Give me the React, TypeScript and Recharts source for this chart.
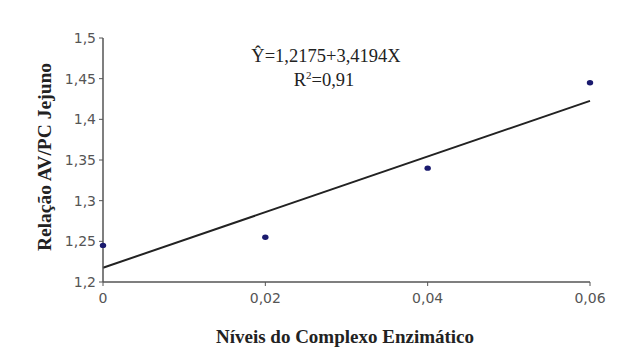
import React from "react";
import { ComposedChart, Scatter, XAxis, YAxis, ReferenceLine } from "recharts";

// Observed values
const niveis = [0, 0.02, 0.04, 0.06];
const relacao = [1.245, 1.255, 1.34, 1.445];

// Fitted regression: Y = a + b·X
const intercept = 1.2175;
const slope = 3.4194;
const r2 = 0.91;

const xTicks = [0, 0.02, 0.04, 0.06];
const yTicks = [1.2, 1.25, 1.3, 1.35, 1.4, 1.45, 1.5];

const points = niveis.map((x, i) => ({ x, y: relacao[i] }));
const xMin = niveis[0];
const xMax = niveis[niveis.length - 1];

const fmt = (v: number) => String(v).replace(".", ",");

const serif = "'Liberation Serif', 'Times New Roman', serif";
const sans = "'DejaVu Sans', Verdana, sans-serif";

const XTick = ({ x, y, payload }: any) => (
  <text x={x} y={y + 15} textAnchor="middle" fill="#555" fontFamily={sans} fontSize={14}>
    {fmt(payload.value)}
  </text>
);

const YTick = ({ x, y, payload }: any) => (
  <text x={x} y={y + 5} textAnchor="end" fill="#555" fontFamily={sans} fontSize={14}>
    {fmt(payload.value)}
  </text>
);

export default function App() {
  return (
    <div style={{ position: "absolute", left: 0, top: 0, width: 629, height: 362, background: "#fff" }}>
      <ComposedChart width={629} height={362} margin={{ top: 38, right: 39, bottom: 50, left: 0 }}>
        <XAxis
          type="number"
          dataKey="x"
          domain={[0, 0.06]}
          ticks={xTicks}
          height={30}
          tickSize={4}
          tickMargin={2}
          stroke="#555"
          tick={<XTick />}
          axisLine={{ stroke: "#555", strokeWidth: 1.5 }}
        />
        <YAxis
          type="number"
          dataKey="y"
          domain={[1.2, 1.5]}
          ticks={yTicks}
          width={103}
          tickSize={4}
          tickMargin={3}
          stroke="#555"
          tick={<YTick />}
          axisLine={{ stroke: "#555", strokeWidth: 1.5 }}
        />
        <ReferenceLine
          segment={[
            { x: xMin, y: intercept + slope * xMin },
            { x: xMax, y: intercept + slope * xMax },
          ]}
          stroke="#222"
          strokeWidth={2}
        />
        <Scatter
          data={points}
          fill="#1a1a6e"
          isAnimationActive={false}
          shape={(p: any) => <ellipse cx={p.cx} cy={p.cy} rx={3.2} ry={2.7} fill="#1a1a6e" />}
        />
      </ComposedChart>

      {/* equation, axis titles */}
      <svg
        width={629}
        height={362}
        style={{ position: "absolute", left: 0, top: 0, pointerEvents: "none" }}
      >
        <text x={326} y={62} textAnchor="middle" fontFamily={serif} fontSize={18.5} fill="#222">
          Ŷ={fmt(intercept)}+{fmt(slope)}X
        </text>
        <text x={324} y={86} textAnchor="middle" fontFamily={serif} fontSize={18.5} fill="#222">
          R<tspan fontSize={11} dy={-7}>2</tspan>
          <tspan dy={7}>={fmt(r2)}</tspan>
        </text>
        <text
          transform="translate(51,157) rotate(-90)"
          textAnchor="middle"
          fontFamily={serif}
          fontWeight="bold"
          fontSize={19.5}
          fill="#222"
        >
          Relação AV/PC Jejuno
        </text>
        <text
          x={345}
          y={343}
          textAnchor="middle"
          fontFamily={serif}
          fontWeight="bold"
          fontSize={19}
          fill="#222"
        >
          Níveis do Complexo Enzimático
        </text>
      </svg>
    </div>
  );
}
